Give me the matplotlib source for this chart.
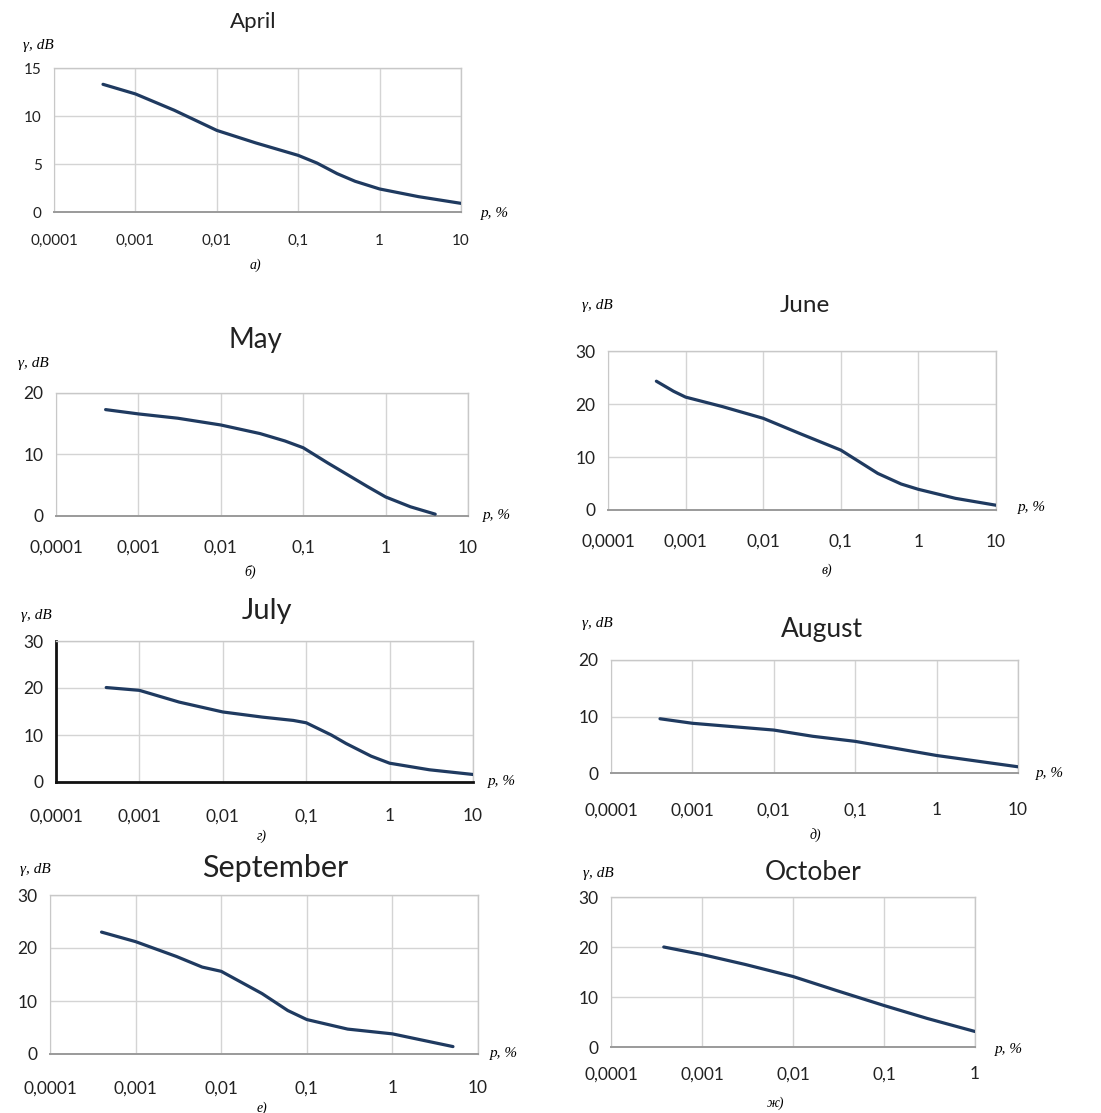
"""
Seasonal rain attenuation curves: gamma (dB) vs exceedance probability p (%).
Seven monthly panels, Excel-like styling.
"""

import numpy as np
import matplotlib.pyplot as plt
from matplotlib.ticker import FixedLocator, FixedFormatter


# --- Data ---
april_p = [0.0004, 0.001, 0.003, 0.01, 0.03, 0.1, 0.17, 0.3, 0.5, 1, 3, 10]
april_g = [13.3, 12.3, 10.6, 8.5, 7.2, 5.9, 5.1, 4.0, 3.2, 2.4, 1.6, 0.9]

may_p = [0.0004, 0.001, 0.003, 0.01, 0.03, 0.06, 0.1, 0.2, 0.3, 0.6, 1, 2, 4]
may_g = [17.3, 16.6, 15.9, 14.8, 13.4, 12.2, 11.1, 8.6, 7.2, 4.8, 3.1, 1.5, 0.3]

june_p = [0.00042, 0.0007, 0.001, 0.003, 0.01, 0.03, 0.1, 0.3, 0.6, 1, 3, 10]
june_g = [24.3, 22.4, 21.3, 19.5, 17.3, 14.4, 11.3, 6.9, 4.9, 3.9, 2.2, 0.9]

july_p = [0.0004, 0.001, 0.003, 0.01, 0.03, 0.07, 0.1, 0.2, 0.3, 0.6, 1, 3, 10]
july_g = [20.1, 19.5, 17.0, 14.9, 13.8, 13.1, 12.6, 10.0, 8.2, 5.5, 4.0, 2.6, 1.6]

august_p = [0.0004, 0.001, 0.01, 0.03, 0.1, 1, 10]
august_g = [9.6, 8.8, 7.6, 6.5, 5.6, 3.1, 1.1]

september_p = [0.0004, 0.001, 0.003, 0.006, 0.01, 0.03, 0.06, 0.1, 0.3, 1, 5.1]
september_g = [23.0, 21.2, 18.4, 16.4, 15.6, 11.4, 8.2, 6.5, 4.7, 3.8, 1.4]

october_p = [0.00038, 0.001, 0.003, 0.01, 0.03, 0.1, 0.3, 1]
october_g = [20.0, 18.5, 16.5, 14.1, 11.3, 8.3, 5.7, 3.1]

x_ticks_10 = [0.0001, 0.001, 0.01, 0.1, 1, 10]
x_labels_10 = ["0,0001", "0,001", "0,01", "0,1", "1", "10"]
x_ticks_1 = [0.0001, 0.001, 0.01, 0.1, 1]
x_labels_1 = ["0,0001", "0,001", "0,01", "0,1", "1"]

W, H = 1101, 1113
LINE = "#1f3a60"
GRID = "#d4d4d4"
SANS = "Lato"
SERIF = "Liberation Serif"


def fx(x):
    return x / W


def fy(y):
    return 1 - y / H


def panel(fig, box, p, g, title, title_xy, title_size, yticks, xticks, xlabels,
          ylab_xy, xlab_xy, sub, sub_xy, tick_size=12, xpad=16, dark_axes=False):
    x0, y0, x1, y1 = box
    ax = fig.add_axes([fx(x0), fy(y1), fx(x1 - x0), (y1 - y0) / H])
    ax.plot(p, g, color=LINE, linewidth=2.3, solid_capstyle="round",
            solid_joinstyle="round", zorder=3)
    ax.set_xscale("log")
    ax.set_xlim(xticks[0], xticks[-1])
    ax.set_ylim(yticks[0], yticks[-1])
    ax.xaxis.set_major_locator(FixedLocator(xticks))
    ax.xaxis.set_major_formatter(FixedFormatter(xlabels))
    ax.xaxis.set_minor_locator(FixedLocator([]))
    ax.set_yticks(yticks)
    ax.set_yticklabels([str(v) for v in yticks])
    ax.grid(True, color=GRID, linewidth=1.0)
    ax.set_axisbelow(True)
    ax.tick_params(length=0, labelsize=tick_size, labelcolor="#222222")
    ax.tick_params(axis="x", pad=xpad)
    ax.tick_params(axis="y", pad=9)
    for lab in ax.get_xticklabels() + ax.get_yticklabels():
        lab.set_fontfamily(SANS)
    for side in ["top", "right"]:
        ax.spines[side].set_color("#c8c8c8")
        ax.spines[side].set_linewidth(1.0)
    if dark_axes:
        for side in ["left", "bottom"]:
            ax.spines[side].set_color("#111111")
            ax.spines[side].set_linewidth(2.0)
    else:
        ax.spines["left"].set_color("#c8c8c8")
        ax.spines["bottom"].set_color("#9a9a9a")
        ax.spines["bottom"].set_linewidth(1.4)

    fig.text(fx(title_xy[0]), fy(title_xy[1]), title, fontsize=title_size,
             family=SANS, ha="center", va="center", color="#222222")
    fig.text(fx(ylab_xy[0]), fy(ylab_xy[1]), "γ, dB", fontsize=11,
             family=SERIF, style="italic", ha="center", va="center")
    fig.text(fx(xlab_xy[0]), fy(xlab_xy[1]), "p, %", fontsize=11,
             family=SERIF, style="italic", ha="center", va="center")
    fig.text(fx(sub_xy[0]), fy(sub_xy[1]), sub, fontsize=10,
             family=SERIF, style="italic", ha="center", va="center")
    return ax


def main():
    fig = plt.figure(figsize=(W / 100, H / 100), dpi=100)
    fig.patch.set_facecolor("white")

    panel(fig, (54, 68, 461, 212), april_p, april_g, "April", (253, 22), 16,
          [0, 5, 10, 15], x_ticks_10, x_labels_10,
          (38, 45), (495, 213), "а)", (255, 265), tick_size=11, xpad=16)

    panel(fig, (56, 393, 468, 516), may_p, may_g, "May", (255, 340), 20,
          [0, 10, 20], x_ticks_10, x_labels_10,
          (33, 363), (497, 515), "б)", (250, 572), tick_size=12.5, xpad=17)

    panel(fig, (608, 351, 996, 510), june_p, june_g, "June", (805, 305), 17.5,
          [0, 10, 20, 30], x_ticks_10, x_labels_10,
          (597, 305), (1032, 508), "в)", (827, 570), tick_size=12.5, xpad=17)

    panel(fig, (56, 641, 473, 782), july_p, july_g, "July", (267, 611), 21,
          [0, 10, 20, 30], x_ticks_10, x_labels_10,
          (36, 615), (502, 782), "г)", (262, 836), tick_size=12.5, xpad=19,
          dark_axes=True)

    panel(fig, (611, 660, 1018, 773), august_p, august_g, "August", (822, 630), 19,
          [0, 10, 20], x_ticks_10, x_labels_10,
          (597, 623), (1050, 774), "д)", (815, 835), tick_size=12.5, xpad=21)

    panel(fig, (50, 895, 478, 1054), september_p, september_g, "September", (275, 868), 22,
          [0, 10, 20, 30], x_ticks_10, x_labels_10,
          (35, 870), (504, 1053), "е)", (262, 1108), tick_size=12.5, xpad=19)

    panel(fig, (611, 897, 975, 1047), october_p, october_g, "October", (813, 872), 19,
          [0, 10, 20, 30], x_ticks_1, x_labels_1,
          (598, 873), (1009, 1050), "ж)", (775, 1103), tick_size=12.5, xpad=14)

    fig.savefig("out.png", dpi=100, facecolor="white")
    plt.close(fig)


if __name__ == "__main__":
    main()
